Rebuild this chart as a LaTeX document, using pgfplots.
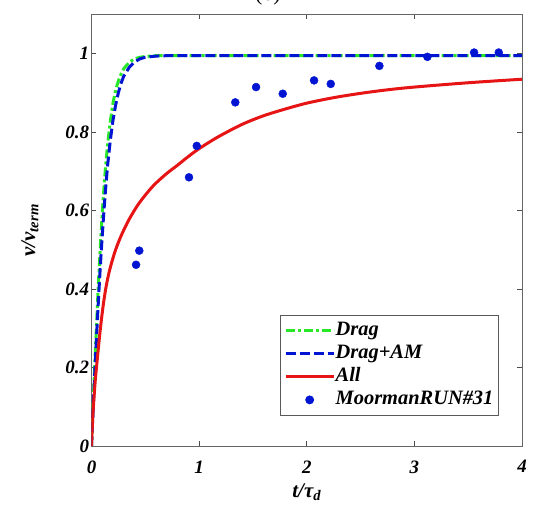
\documentclass[border=0pt]{standalone}
\usepackage{pgfplots}
\pgfplotsset{compat=1.18}
\usepackage{fontspec}
\setmainfont{Liberation Serif}
\definecolor{mgreen}{RGB}{40,230,40}
\definecolor{mblue}{RGB}{0,20,210}
\definecolor{mred}{RGB}{230,20,20}
\pgfplotsset{
  linelegend/.style={legend image code/.code={\draw[##1] (0bp,0bp) -- (48bp,0bp);}},
  dotlegend/.style={legend image code/.code={\draw[##1] plot coordinates {(24bp,0bp)};}},
}
\begin{document}
\begin{tikzpicture}
\begin{axis}[
  at={(0,0)}, anchor=south west,
  scale only axis, width=430.5bp, height=431.5bp,
  xmin=0, xmax=4, ymin=0, ymax=1.1,
  xtick={0,1,2,3,4}, ytick={0,0.2,0.4,0.6,0.8,1},
  yticklabels={0,0.2,0.4,0.6,0.8,1},
  xticklabels={0,1,2,3,4},
  tick align=inside, tick pos=both,
  major tick length=5bp,
  axis line style={gray!80!black, line width=0.8bp},
  every tick/.style={gray!60!black, line width=0.6bp},
  /pgf/number format/assume math mode=true,
  tick label style={font=\fontsize{19}{22}\selectfont\bfseries\itshape},
  xticklabel style={yshift=-11bp},
  yticklabel style={xshift=1bp},
  xlabel={t/τ\textsubscript{d}},
  ylabel={v/v\textsubscript{term}},
  every axis x label/.style={at={(axis description cs:0.5,-0.108)}, anchor=center,
     font=\fontsize{21}{24}\selectfont\bfseries\itshape},
  every axis y label/.style={at={(axis description cs:-0.143,0.5)}, rotate=90, anchor=center,
     font=\fontsize{21}{24}\selectfont\bfseries\itshape},
  title={(b)},
  title style={font=\fontsize{22}{26}\selectfont, at={(axis description cs:0.41,1.0)}, anchor=center, yshift=13bp},
  legend style={at={(axis cs:3.78,0.077)}, anchor=south east, draw=gray!70!black, line width=0.8bp,
    font=\fontsize{20.5}{22}\selectfont\bfseries\itshape, inner sep=4bp, row sep=0bp,
    nodes={inner xsep=0.5bp, inner ysep=1.5bp, text height=15bp, text depth=5bp},
    cells={anchor=west}},
  linelegend,
]
\addplot[mgreen, line width=3bp, dash pattern=on 9bp off 3bp on 3bp off 3bp] coordinates {
(0,0) (0.01,0.068) (0.02,0.136) (0.03,0.203) (0.04,0.267) (0.05,0.329) (0.06,0.389) (0.07,0.445) (0.08,0.498)
(0.09,0.548) (0.1,0.594) (0.115,0.655) (0.13,0.710) (0.15,0.770) (0.175,0.828) (0.2,0.875) (0.225,0.908)
(0.25,0.931) (0.275,0.948) (0.3,0.962) (0.35,0.978) (0.4,0.987) (0.45,0.991) (0.5,0.993) (0.6,0.995)
(0.8,0.995) (1.5,0.995) (2.5,0.995) (4,0.995)};
\addlegendentry{Drag}
\addplot[mblue, line width=3bp, dash pattern=on 10bp off 4bp] coordinates {
(0,0) (0.01,0.062) (0.02,0.124) (0.03,0.184) (0.04,0.241) (0.05,0.296) (0.06,0.349) (0.07,0.400) (0.08,0.448)
(0.09,0.494) (0.1,0.537) (0.115,0.597) (0.13,0.652) (0.15,0.716) (0.175,0.780) (0.2,0.831) (0.225,0.870)
(0.25,0.901) (0.275,0.925) (0.3,0.943) (0.35,0.965) (0.4,0.979) (0.45,0.987) (0.5,0.991) (0.6,0.994)
(0.7,0.995) (1.5,0.995) (2.5,0.995) (4,0.995)};
\addlegendentry{Drag+AM}
\addplot[mred, line width=3bp, smooth, tension=0.5] coordinates {
(0,0) (0.01,0.065) (0.02,0.11) (0.035,0.167) (0.054,0.222) (0.08,0.293) (0.107,0.355) (0.135,0.405)
(0.169,0.449) (0.22,0.497) (0.277,0.537) (0.35,0.578) (0.432,0.615) (0.51,0.643) (0.587,0.667)
(0.7,0.695) (0.8,0.716) (0.9,0.738) (1.0,0.758) (1.176,0.788) (1.4,0.820) (1.6,0.842) (1.8,0.859)
(2.0,0.874) (2.25,0.888) (2.5,0.899) (2.75,0.908) (3.0,0.915) (3.5,0.926) (4.0,0.935)};
\addlegendentry{All}
\addplot[only marks, mark=*, mark size=4bp, mblue, mark options={fill=mblue, draw=mblue}, dotlegend] coordinates {
(0.414,0.462) (0.444,0.498) (0.906,0.685) (0.978,0.765) (1.336,0.876) (1.529,0.915) (1.777,0.898)
(2.068,0.932) (2.223,0.923) (2.675,0.969) (3.121,0.992) (3.555,1.003) (3.784,1.003)};
\addlegendentry{MoormanRUN\#31}
\end{axis}
\pgfresetboundingbox
\useasboundingbox (-91.5bp,-66bp) rectangle (455.5bp,446bp);
\end{tikzpicture}
\end{document}
